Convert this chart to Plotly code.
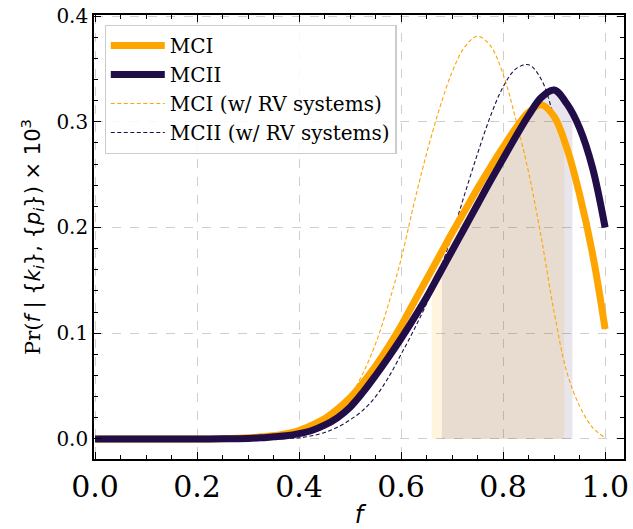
import numpy as np
import plotly.graph_objects as go

# ---- data ----
f_grid = [0.0, 0.05, 0.1, 0.15, 0.2, 0.25, 0.3, 0.325, 0.35, 0.375, 0.4, 0.425, 0.45, 0.475,
          0.5, 0.525, 0.55, 0.575, 0.6, 0.625, 0.65, 0.675, 0.7, 0.725, 0.75, 0.775, 0.8,
          0.825, 0.85, 0.875, 0.9, 0.925, 0.95, 0.975, 1.0]

mci = [0.0, 0.0, 0.0, 0.0, 0.0, 0.0002, 0.001, 0.002, 0.003, 0.005, 0.008, 0.013, 0.019, 0.028,
       0.039, 0.053, 0.069, 0.087, 0.107, 0.129, 0.151, 0.173, 0.195, 0.216, 0.237, 0.257, 0.276,
       0.294, 0.309, 0.316, 0.305, 0.275, 0.231, 0.176, 0.104]
mcii = [0.0, 0.0, 0.0, 0.0, 0.0, 0.0001, 0.0005, 0.001, 0.002, 0.003, 0.005, 0.008, 0.013, 0.02,
        0.03, 0.044, 0.06, 0.077, 0.095, 0.114, 0.134, 0.156, 0.178, 0.2, 0.222, 0.244, 0.265,
        0.286, 0.306, 0.323, 0.330, 0.317, 0.294, 0.257, 0.2]
mci_rv = [0.0, 0.0, 0.0, 0.0, 0.0, 0.0, 0.0002, 0.0005, 0.001, 0.003, 0.006, 0.011, 0.018, 0.027,
          0.04, 0.062, 0.09, 0.127, 0.17, 0.222, 0.27, 0.312, 0.347, 0.371, 0.381, 0.372, 0.345,
          0.302, 0.252, 0.19, 0.12, 0.063, 0.031, 0.011, 0.001]
mcii_rv = [0.0, 0.0, 0.0, 0.0, 0.0, 0.0, 0.0, 0.0002, 0.0004, 0.0007, 0.001, 0.003, 0.006, 0.011,
           0.018, 0.027, 0.04, 0.058, 0.08, 0.103, 0.128, 0.158, 0.193, 0.232, 0.27, 0.305, 0.333,
           0.35, 0.354, 0.34, 0.305, 0.272, 0.23, 0.176, 0.104]

mci_interval = [0.660, 0.920]
mcii_interval = [0.680, 0.936]

x_ticks = [0.0, 0.2, 0.4, 0.6, 0.8, 1.0]
y_ticks = [0.0, 0.1, 0.2, 0.3, 0.4]

ORANGE = "#ffa500"
NAVY = "#210d47"
SERIF = "DejaVu Serif"
SANS = "DejaVu Sans"


def shade(lo, hi, ys):
    xs = [lo] + [x for x in f_grid if lo < x < hi] + [hi]
    vs = list(np.interp(xs, f_grid, ys))
    return xs, vs


fig = go.Figure()

# shaded credible intervals
for (lo, hi), ys, col in [(mci_interval, mci, "rgba(255,165,0,0.12)"),
                          (mcii_interval, mcii, "rgba(33,13,71,0.10)")]:
    xs, vs = shade(lo, hi, ys)
    fig.add_trace(go.Scatter(x=xs, y=vs, mode="lines", line=dict(width=0, shape="spline"),
                             fill="tozeroy", fillcolor=col, showlegend=False,
                             hoverinfo="skip"))

# dashed curves (beneath thick ones)
fig.add_trace(go.Scatter(x=f_grid, y=mci_rv, mode="lines", name="MCI (w/ RV systems)",
                         line=dict(color=ORANGE, width=1.1, dash="4px,2.5px", shape="spline"),
                         legendrank=3, legendgroup="c"))
fig.add_trace(go.Scatter(x=f_grid, y=mcii_rv, mode="lines", name="MCII (w/ RV systems)",
                         line=dict(color=NAVY, width=1.1, dash="4px,2.5px", shape="spline"),
                         legendrank=4, legendgroup="d"))
# thick curves
fig.add_trace(go.Scatter(x=f_grid, y=mci, mode="lines", name="MCI",
                         line=dict(color=ORANGE, width=7, shape="spline"),
                         legendrank=1, legendgroup="a"))
fig.add_trace(go.Scatter(x=f_grid, y=mcii, mode="lines", name="MCII",
                         line=dict(color=NAVY, width=7, shape="spline"),
                         legendrank=2, legendgroup="b"))

axis_common = dict(showline=True, linecolor="black", linewidth=1.6, mirror="allticks",
                   ticks="inside", ticklen=7, tickwidth=1.3, tickcolor="black",
                   showgrid=True, gridcolor="#cfcfcf", griddash="dash", gridwidth=1,
                   zeroline=False)

ytitle = ("Pr(<span style='font-family:DejaVu Sans'><i>f</i> | {<i>k<sub>i</sub></i>},"
          " {<i>p<sub>i</sub></i>}) × 10<sup>3</sup></span>")

fig.update_xaxes(range=[-0.002, 1.037], tickvals=x_ticks, ticktext=[f"{v:.1f}" for v in x_ticks],
                 tickfont=dict(family=SERIF, size=30, color="black"),
                 minor=dict(dtick=0.05, tick0=0, ticks="inside", ticklen=4, tickwidth=1,
                            tickcolor="black", showgrid=False),
                 title=dict(text="<i>f</i>", font=dict(family=SANS, size=24, color="black"),
                            standoff=4),
                 **axis_common)
fig.update_yaxes(range=[-0.019, 0.401], tickvals=y_ticks, ticktext=[f"{v:.1f}" for v in y_ticks],
                 tickfont=dict(family=SERIF, size=20, color="black"),
                 minor=dict(dtick=0.02, tick0=0, ticks="inside", ticklen=4, tickwidth=1,
                            tickcolor="black", showgrid=False),
                 title=dict(text=ytitle, font=dict(family=SERIF, size=21, color="black"),
                            standoff=10),
                 **axis_common)

fig.update_layout(
    width=633, height=529,
    margin=dict(l=94, r=4, t=15, b=68),
    paper_bgcolor="white", plot_bgcolor="white",
    font=dict(family=SERIF, color="black"),
    legend=dict(x=0.02, y=0.978, xanchor="left", yanchor="top",
                bgcolor="rgba(255,255,255,0.85)", bordercolor="#cccccc", borderwidth=1.2,
                font=dict(family=SERIF, size=20, color="black"),
                itemwidth=54, tracegroupgap=0),
    showlegend=True,
)

fig.write_html("out.html")
